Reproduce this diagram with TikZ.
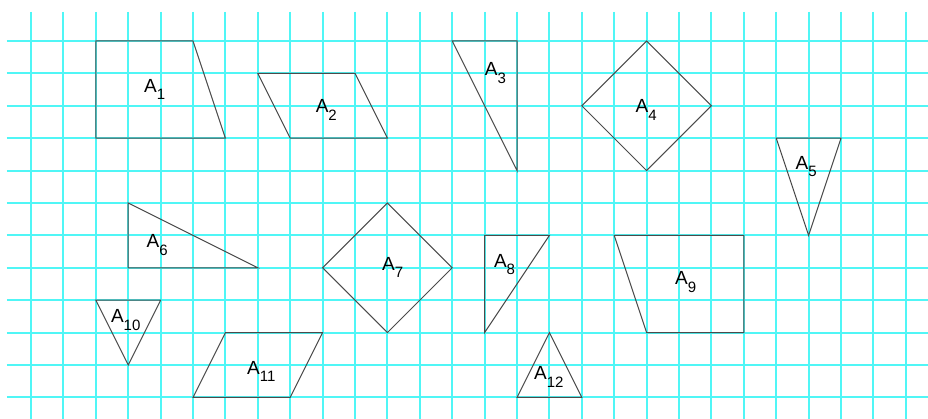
\documentclass[tikz,border=0pt]{standalone}
\usepackage{fontspec}
\setmainfont{Liberation Sans}
\definecolor{gridc}{RGB}{80,246,246}
\definecolor{shapec}{RGB}{75,75,75}
\newcommand{\lab}[1]{\fontsize{19}{19}\selectfont A\raisebox{-7.7pt}{\fontsize{15}{15}\selectfont #1}}
\begin{document}
\begin{tikzpicture}[x=32.4pt,y=32.4pt,
  gridline/.style={draw=gridc,line width=2.0pt},
  shp/.style={draw=shapec,line width=1pt,line join=miter},
  lbl/.style={anchor=base west,inner sep=0pt,outer sep=0pt}]
\useasboundingbox (-0.957,-11.667) rectangle (27.685,1.265);
\fill[white] (-0.957,-11.667) rectangle (27.685,1.265);
\foreach \j in {0,...,27} \draw[gridline] (\j,0.895) -- (\j,-11.667);
\foreach \k in {0,...,11} \draw[gridline] (-0.741,-\k) -- (27.685,-\k);
% shapes
\draw[shp] (2,0) -- (5,0) -- (6,-3) -- (2,-3) -- cycle;
\draw[shp] (7,-1) -- (10,-1) -- (11,-3) -- (8,-3) -- cycle;
\draw[shp] (13,0) -- (15,0) -- (15,-4) -- cycle;
\draw[shp] (19,0) -- (21,-2) -- (19,-4) -- (17,-2) -- cycle;
\draw[shp] (23,-3) -- (25,-3) -- (24,-6) -- cycle;
\draw[shp] (3,-5) -- (7,-7) -- (3,-7) -- cycle;
\draw[shp] (11,-5) -- (13,-7) -- (11,-9) -- (9,-7) -- cycle;
\draw[shp] (14,-6) -- (16,-6) -- (14,-9) -- cycle;
\draw[shp] (18,-6) -- (22,-6) -- (22,-9) -- (19,-9) -- cycle;
\draw[shp] (2,-8) -- (4,-8) -- (3,-10) -- cycle;
\draw[shp] (6,-9) -- (9,-9) -- (8,-11) -- (5,-11) -- cycle;
\draw[shp] (16,-9) -- (17,-11) -- (15,-11) -- cycle;
% labels
\node[lbl] (l1) at (3.49,-1.58) {\lab{1}};
\node[lbl] (l2) at (8.79,-2.21) {\lab{2}};
\node[lbl] (l3) at (14.01,-1.08) {\lab{3}};
\node[lbl] (l4) at (18.66,-2.21) {\lab{4}};
\node[lbl] (l5) at (23.60,-3.96) {\lab{5}};
\node[lbl] (l6) at (3.57,-6.38) {\lab{6}};
\node[lbl] (l7) at (10.84,-7.07) {\lab{7}};
\node[lbl] (l8) at (14.29,-6.98) {\lab{8}};
\node[lbl] (l9) at (19.88,-7.53) {\lab{9}};
\node[lbl] (l10) at (2.47,-8.69) {\lab{10}};
\node[lbl] (l11) at (6.67,-10.28) {\lab{11}};
\node[lbl] (l12) at (15.53,-10.46) {\lab{12}};
\end{tikzpicture}
\end{document}
